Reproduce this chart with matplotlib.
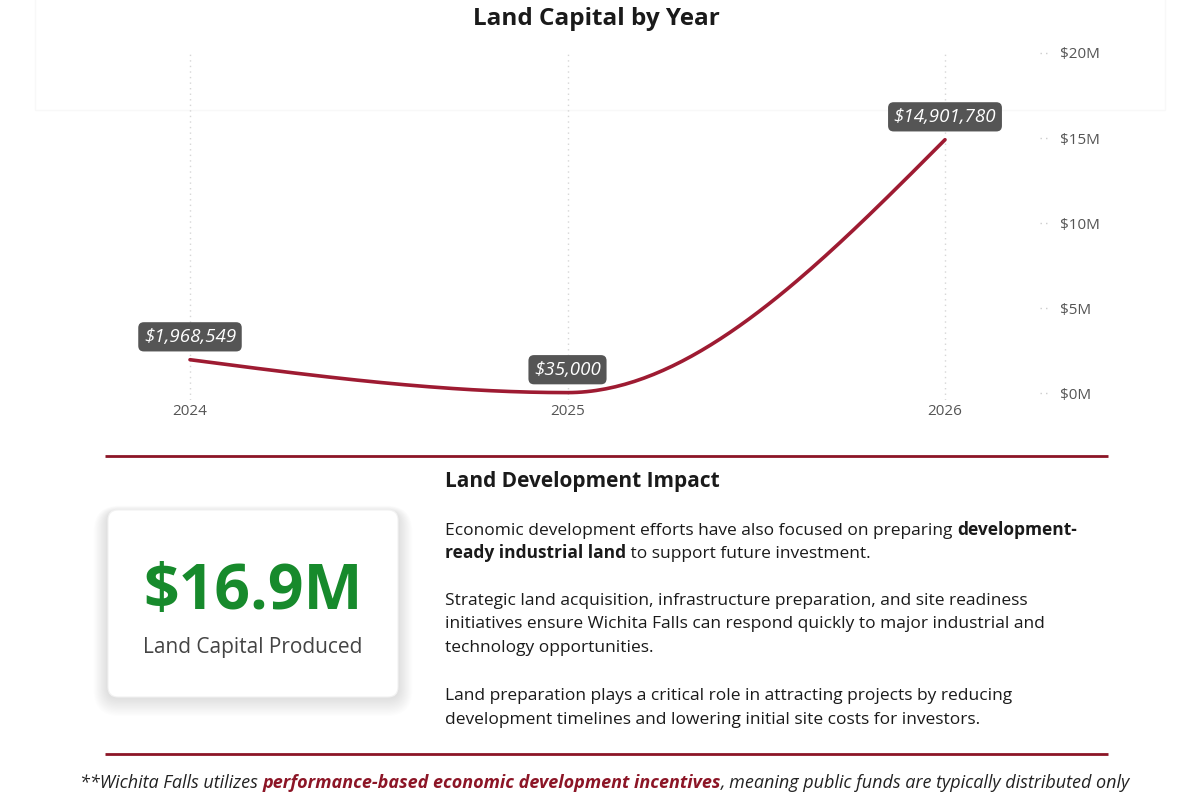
import numpy as np
import matplotlib
matplotlib.use("Agg")
import matplotlib.pyplot as plt
from matplotlib.patches import FancyBboxPatch, Rectangle
from matplotlib.transforms import blended_transform_factory

years = [2024, 2025, 2026]
land_capital = [1968549, 35000, 14901780]
y_ticks = [0, 5e6, 10e6, 15e6, 20e6]
y_tick_labels = ["$0M", "$5M", "$10M", "$15M", "$20M"]
total_label = "$16.9M"
total_caption = "Land Capital Produced"

title = "Land Capital by Year"
section_title = "Land Development Impact"
paragraphs = [
    [[("Economic development efforts have also focused on preparing ", "normal"), ("development-", "bold")],
     [("ready industrial land", "bold"), (" to support future investment.", "normal")]],
    [[("Strategic land acquisition, infrastructure preparation, and site readiness", "normal")],
     [("initiatives ensure Wichita Falls can respond quickly to major industrial and", "normal")],
     [("technology opportunities.", "normal")]],
    [[("Land preparation plays a critical role in attracting projects by reducing", "normal")],
     [("development timelines and lowering initial site costs for investors.", "normal")]],
]
footer = [("**Wichita Falls utilizes ", "normal", "#222222"),
          ("performance-based economic development incentives", "bold", "#8c1526"),
          (", meaning public funds are typically distributed only", "normal", "#222222")]

LINE = "#9e1b32"
RULE = "#8c1526"
GREEN = "#178a2c"
FONT = "Open Sans"


def monotone_curve(xs, ys, n=80):
    # d3 curveMonotoneX style smoothing
    xs = np.asarray(xs, float)
    ys = np.asarray(ys, float)
    h = np.diff(xs)
    s = np.diff(ys) / h
    t = np.zeros(len(xs))
    for i in range(1, len(xs) - 1):
        p = (s[i - 1] * h[i] + s[i] * h[i - 1]) / (h[i - 1] + h[i])
        t[i] = (np.sign(s[i - 1]) + np.sign(s[i])) * min(abs(s[i - 1]), abs(s[i]), 0.5 * abs(p))
    t[0] = (3 * s[0] - t[1]) / 2
    t[-1] = (3 * s[-1] - t[-2]) / 2
    out_x, out_y = [], []
    for i in range(len(xs) - 1):
        u = np.linspace(0, 1, n)
        h00 = 2 * u**3 - 3 * u**2 + 1
        h10 = u**3 - 2 * u**2 + u
        h01 = -2 * u**3 + 3 * u**2
        h11 = u**3 - u**2
        out_x.append(xs[i] + u * h[i])
        out_y.append(h00 * ys[i] + h10 * h[i] * t[i] + h01 * ys[i + 1] + h11 * h[i] * t[i + 1])
    return np.concatenate(out_x), np.concatenate(out_y)


fig = plt.figure(figsize=(12, 8), dpi=100)
renderer = fig.canvas.get_renderer()

# background axes in pixel units (y downwards)
bg = fig.add_axes([0, 0, 1, 1])
bg.set_xlim(0, 1200)
bg.set_ylim(800, 0)
bg.axis("off")

bg.add_patch(Rectangle((35, -5), 1130, 115, fill=False, edgecolor="#f8f8f8", linewidth=1))


def text_width(t):
    return t.get_window_extent(renderer).width


def rich_line(x, y, parts, size, style="normal"):
    # spaces kept inside the strings; measure with a sentinel so trailing blanks count
    for text, weight, color in parts:
        kw = dict(fontsize=size, fontweight=weight, fontstyle=style, family=FONT)
        bg.text(x, y, text, color=color, ha="left", va="baseline", **kw)
        a = bg.text(0, 0, text + "|", **kw)
        b = bg.text(0, 0, "|", **kw)
        x += text_width(a) - text_width(b)
        a.remove()
        b.remove()


bg.text(596, 19, title, fontsize=17.5, fontweight="bold", family=FONT,
        color="#1a1a1a", ha="center", va="center")

# main line chart
ax = fig.add_axes([100 / 1200, 1 - 400 / 800, 935 / 1200, 347 / 800])
ymin = -0.4e6
ax.set_ylim(ymin, 20e6)
ax.set_xlim(2024 - 90 / 377.5, 2026 + 90 / 377.5)
for sp in ax.spines.values():
    sp.set_visible(False)
ax.set_facecolor("none")

for yr in years:
    ax.plot([yr, yr], [ymin, 20e6], color="#d6d6d6", linestyle=(0, (1, 3)), linewidth=1)

cx, cy = monotone_curve(years, land_capital)
ax.plot(cx, cy, color=LINE, linewidth=2.6, solid_capstyle="round", clip_on=False, zorder=3)

for yr, val in zip(years, land_capital):
    ax.annotate(f"${val:,.0f}", (yr, val), xytext=(0, 10), textcoords="offset points",
                ha="center", va="bottom", fontsize=13.5, fontstyle="italic", family=FONT,
                color="white", zorder=5,
                bbox=dict(boxstyle="round,pad=0.3,rounding_size=0.3", facecolor="#555555",
                          edgecolor="none"))

ax.set_xticks(years)
ax.set_xticklabels([str(y) for y in years], fontsize=11, color="#555555", family=FONT)
ax.tick_params(axis="x", length=0, pad=3)
ax.set_yticks(y_ticks)
ax.set_yticklabels(y_tick_labels, fontsize=11, color="#555555", family=FONT)
ax.yaxis.tick_right()
ax.tick_params(axis="y", length=0, pad=18)
tr = blended_transform_factory(ax.transAxes, ax.transData)
for v in y_ticks:
    ax.plot([1.005, 1.016], [v, v], color="#cccccc", linestyle=(0, (1, 3)),
            linewidth=1, transform=tr, clip_on=False)

# dividers
bg.plot([105, 1108], [456, 456], color=RULE, linewidth=2, solid_capstyle="butt")
bg.plot([105, 1108], [754, 754], color=RULE, linewidth=2, solid_capstyle="butt")

# KPI card with soft shadow
for i in range(16, 0, -1):
    bg.add_patch(FancyBboxPatch((108 - i * 0.9, 512 - i * 0.4), 290 + i * 1.8, 185 + i * 1.6,
                                boxstyle="round,pad=0,rounding_size=%d" % (10 + i),
                                facecolor="#000000", edgecolor="none", alpha=0.008))
bg.add_patch(FancyBboxPatch((108, 510), 290, 187, boxstyle="round,pad=0,rounding_size=10",
                            facecolor="white", edgecolor="#f2f2f2", linewidth=0.8))
bg.text(253, 593, total_label, fontsize=45, fontweight="bold", color=GREEN,
        family=FONT, ha="center", va="center")
bg.text(253, 648, total_caption, fontsize=15, color="#444444", family=FONT,
        ha="center", va="center")

# narrative text
bg.text(445, 487, section_title, fontsize=15, fontweight="bold", color="#1a1a1a",
        family=FONT, ha="left", va="baseline")
para_y = [535, 605, 700]
for py, para in zip(para_y, paragraphs):
    for j, line in enumerate(para):
        rich_line(445, py + j * 23.5, [(t, w, "#1a1a1a") for t, w in line], 12.5)

rich_line(80, 788, footer, 13, style="italic")

fig.savefig("out.png", dpi=100)
